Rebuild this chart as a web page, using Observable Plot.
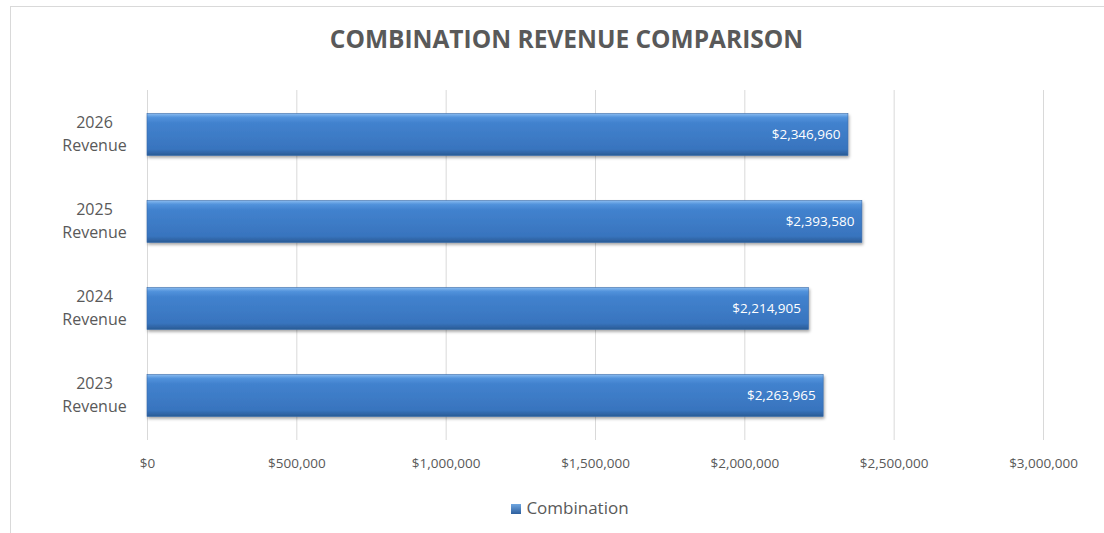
<!DOCTYPE html>
<html>
<head>
<meta charset="utf-8">
<script src="https://cdn.jsdelivr.net/npm/d3@7"></script>
<script src="https://cdn.jsdelivr.net/npm/@observablehq/plot@0.6"></script>
<style>
  body { margin: 0; background: #fff; font-family: "Open Sans", "Liberation Sans", sans-serif; }
  #wrap { position: relative; width: 1104px; height: 533px; overflow: hidden; }
  #frame { position: absolute; left: 10px; top: 6px; width: 1200px; height: 600px; border: 1px solid #d9d9d9; box-sizing: border-box; }
  #title { position: absolute; left: 0; top: 22px; width: 1133px; text-align: center; font-size: 24.5px; font-weight: bold; color: #595959; }
  #chart { position: absolute; left: 0; top: 80px; }
  #legend { position: absolute; left: 0; top: 496px; width: 1140px; text-align: center; font-size: 17px; color: #595959; }
  #legend .sw { display: inline-block; width: 10px; height: 10px; background: linear-gradient(#6fa6e0, #2e5f9e); margin-right: 5px; vertical-align: 0px; }
</style>
</head>
<body>
<div id="wrap">
  <div id="frame"></div>
  <div id="title">COMBINATION REVENUE COMPARISON</div>
  <div id="chart"></div>
  <div id="legend"><span class="sw"></span>Combination</div>
</div>
<script>
const categories = ["2026\nRevenue", "2025\nRevenue", "2024\nRevenue", "2023\nRevenue"];
const values = [2346960, 2393580, 2214905, 2263965];
const xTicks = [0, 500000, 1000000, 1500000, 2000000, 2500000, 3000000];
const seriesName = "Combination";

const data = categories.map((c, i) => ({category: c, value: values[i], series: seriesName}));
const money = d => "$" + d3.format(",")(d);

const plot = Plot.plot({
  width: 1104,
  height: 400,
  marginLeft: 147,
  marginRight: 61,
  marginTop: 10,
  marginBottom: 40,
  style: { fontFamily: "'Open Sans', 'Liberation Sans', sans-serif", color: "#595959", background: "transparent" },
  x: { domain: [0, 3000000], ticks: xTicks, tickFormat: money, grid: false, label: null },
  y: { domain: categories, padding: 0, label: null },
  marks: [
    Plot.ruleX(xTicks, { stroke: "#d9d9d9", strokeWidth: 1 }),
    Plot.barX(data, { y: "category", x: "value", fill: "url(#barGrad)", stroke: "#3a6aa8", strokeWidth: 0.6, insetTop: 22.5, insetBottom: 22.5 }),
    Plot.text(data, { y: "category", x: "value", text: d => money(d.value), textAnchor: "end", dx: -8, fill: "white", fontSize: 13.5 }),
    Plot.axisX({ ticks: xTicks, tickFormat: money, tickSize: 0, tickPadding: 18, fontSize: 13.5, color: "#595959", label: null }),
    Plot.axisY({ tickSize: 0, tickPadding: 18, fontSize: 16, textAnchor: "middle", dx: -35, dy: -3, color: "#595959", lineHeight: 1.45, label: null })
  ]
});

const svg = d3.select(plot);
const defs = svg.insert("defs", ":first-child");
const g = defs.append("linearGradient").attr("id", "barGrad").attr("x1", 0).attr("y1", 0).attr("x2", 0).attr("y2", 1);
g.append("stop").attr("offset", "0%").attr("stop-color", "#8abcf0");
g.append("stop").attr("offset", "9%").attr("stop-color", "#5293dc");
g.append("stop").attr("offset", "22%").attr("stop-color", "#4282ce");
g.append("stop").attr("offset", "85%").attr("stop-color", "#3874be");
g.append("stop").attr("offset", "100%").attr("stop-color", "#2a5a94");
const f = defs.append("filter").attr("id", "shadow").attr("x", "-5%").attr("y", "-20%").attr("width", "110%").attr("height", "160%");
f.append("feDropShadow").attr("dx", 1).attr("dy", 2).attr("stdDeviation", 1.5).attr("flood-color", "#000").attr("flood-opacity", 0.35);
svg.selectAll("g[aria-label='bar'] rect").attr("filter", "url(#shadow)");

document.getElementById("chart").appendChild(plot);
</script>
</body>
</html>
